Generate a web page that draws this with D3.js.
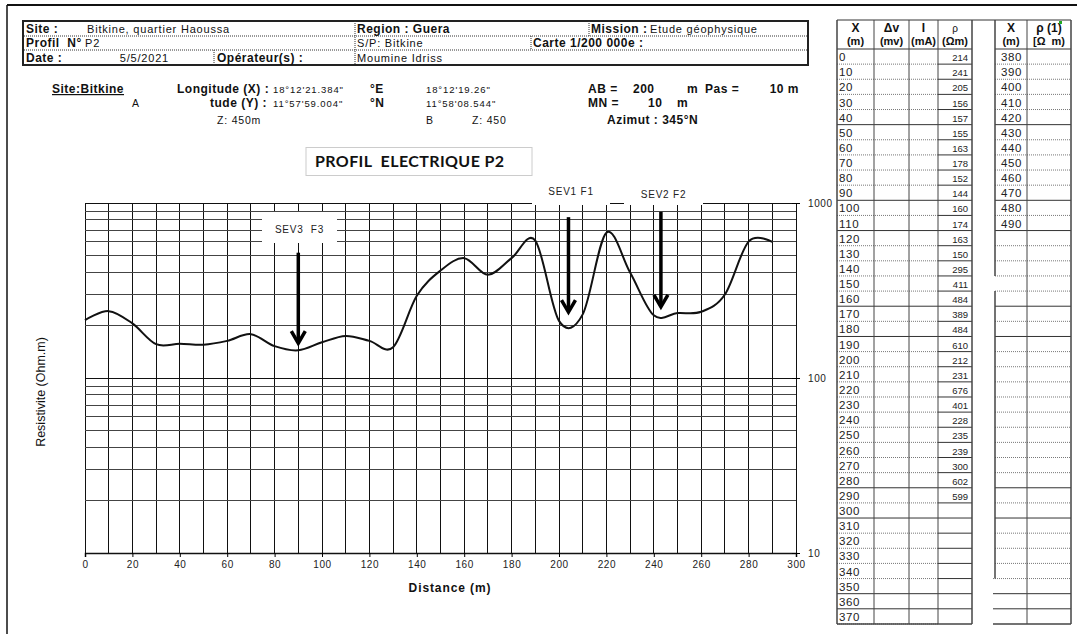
<!DOCTYPE html>
<html>
<head>
<meta charset="utf-8">
<script src="https://cdn.jsdelivr.net/npm/d3@7"></script>
<style>
  body { margin: 0; background: #fff; }
  svg { display: block; font-family: "Liberation Sans", Arial, sans-serif; }
  text { white-space: pre; }
</style>
</head>
<body>
<svg id="chart" width="1077" height="634"></svg>
<script>
// measured profile P2 : distance (m) and apparent resistivity (ohm.m)
const distances = [0, 10, 20, 30, 40, 50, 60, 70, 80, 90, 100, 110, 120, 130, 140,
  150, 160, 170, 180, 190, 200, 210, 220, 230, 240, 250, 260, 270, 280, 290];
const rhoValues = [214, 241, 205, 156, 157, 155, 163, 178, 152, 144, 160, 174, 163, 150, 295,
  411, 484, 389, 484, 610, 212, 231, 676, 401, 228, 235, 239, 300, 602, 599];

const xTickLabels = [0, 20, 40, 60, 80, 100, 120, 140, 160, 180, 200, 220, 240, 260, 280, 300];
const yTickLabels = [10, 100, 1000];

// sondage markers (distance, top of arrow, tip of arrow)
const sevNames = ["SEV3  F3", "SEV1 F1", "SEV2 F2"];
const sevX = [90, 204, 243];
const sevTop = [520, 830, 890];
const sevTip = [158, 238, 255];

// table on the right
const tableX1 = [0, 10, 20, 30, 40, 50, 60, 70, 80, 90, 100, 110, 120, 130, 140, 150, 160, 170, 180,
  190, 200, 210, 220, 230, 240, 250, 260, 270, 280, 290, 300, 310, 320, 330, 340, 350, 360, 370];
const tableX2 = [380, 390, 400, 410, 420, 430, 440, 450, 460, 470, 480, 490];

let svg = d3.select('#chart');

// ---------- page frame ----------
svg.append('line').attr('x1', 7).attr('x2', 1077).attr('y1', 5).attr('y2', 5)
   .attr('stroke', '#111').attr('stroke-width', 2);
svg.append('line').attr('x1', 7).attr('x2', 7).attr('y1', 5).attr('y2', 634)
   .attr('stroke', '#111').attr('stroke-width', 1.5);

// ---------- header box ----------
let head = svg.append('g');
head.append('rect').attr('x', 23).attr('y', 21).attr('width', 785).attr('height', 44)
    .attr('fill', 'none').attr('stroke', '#222').attr('stroke-width', 2);
[36, 50].forEach(y => {
  head.append('line').attr('x1', 24).attr('x2', 807).attr('y1', y).attr('y2', y)
      .attr('stroke', '#333').attr('stroke-dasharray', '1,1');
});
[[355, 21, 65], [589, 21, 36], [531, 36, 50], [214, 50, 65]].forEach(s => {
  head.append('line').attr('x1', s[0]).attr('x2', s[0]).attr('y1', s[1]).attr('y2', s[2])
      .attr('stroke', '#333').attr('stroke-dasharray', '1,1');
});
function htext(x, y, t, bold, anchor) {
  head.append('text').attr('x', x).attr('y', y).text(t)
      .attr('font-size', bold ? 12 : 11)
      .attr('letter-spacing', bold ? 0.5 : 0.8)
      .attr('font-weight', bold ? 'bold' : 'normal')
      .attr('text-anchor', anchor || 'start').attr('fill', '#111');
}
htext(26, 33, 'Site :', true);
htext(87, 33, 'Bitkine, quartier Haoussa', false);
htext(357, 33, 'Region : Guera', true);
htext(591, 33, 'Mission :', true);
htext(650, 33, 'Etude géophysique', false);
htext(26, 47, 'Profil  N°', true);
htext(85, 47, 'P2', false);
htext(357, 47, 'S/P: Bitkine', false);
htext(533, 47, 'Carte 1/200 000e :', true);
htext(26, 62, 'Date :', true);
htext(169, 62, '5/5/2021', false, 'end');
htext(217, 62, 'Opérateur(s) :', true);
htext(357, 62, 'Moumine Idriss', false);

// ---------- site info ----------
let info = svg.append('g').attr('fill', '#111');
function itext(x, y, t, kind, anchor) {
  let s = info.append('text').attr('x', x).attr('y', y).text(t)
      .attr('text-anchor', anchor || 'start');
  if (kind === 'b') s.attr('font-size', 12).attr('font-weight', 'bold').attr('letter-spacing', 0.5);
  else if (kind === 's') s.attr('font-size', 9.5).attr('letter-spacing', 0.9);
  else s.attr('font-size', 10.5).attr('letter-spacing', 0.8);
  return s;
}
itext(52, 93, 'Site:Bitkine', 'b').attr('text-decoration', 'underline');
itext(132, 107, 'A', 'n');
itext(177, 93, 'Longitude (X) :', 'b');
itext(273, 93, "18°12'21.384\"", 's');
itext(210, 107, 'tude (Y) :', 'b');
itext(273, 107, "11°57'59.004\"", 's');
itext(217, 124, 'Z: 450m', 'n');
itext(370, 93, '°E', 'b');
itext(370, 107, '°N', 'b');
itext(426, 93, "18°12'19.26\"", 's');
itext(426, 107, "11°58'08.544\"", 's');
itext(426, 124, 'B', 'n');
itext(472, 124, 'Z: 450', 'n');
itext(588, 93, 'AB =', 'b');
itext(633, 93, '200', 'b');
itext(687, 93, 'm', 'b');
itext(705, 93, 'Pas =', 'b');
itext(799, 93, '10 m', 'b', 'end');
itext(588, 107, 'MN =', 'b');
itext(648, 107, '10', 'b');
itext(677, 107, 'm', 'b');
itext(607, 124, 'Azimut : 345°N', 'b');

// ---------- title box ----------
svg.append('rect').attr('x', 306).attr('y', 147.5).attr('width', 226).attr('height', 28)
   .attr('fill', '#fff').attr('stroke', '#ccc').attr('stroke-width', 1);
svg.append('text').attr('x', 315).attr('y', 167).text('PROFIL  ELECTRIQUE P2')
   .attr('font-family', 'Lato, "Open Sans", sans-serif').attr('font-weight', 'bold')
   .attr('font-size', 16).attr('letter-spacing', 0.4).attr('fill', '#111');

// ---------- chart ----------
let x = d3.scaleLinear().domain([0, 300]).range([85, 796]);
let y = d3.scaleLog().domain([10, 1000]).range([553, 203]);

let grid = svg.append('g').attr('stroke', '#111').attr('stroke-width', 1).attr('shape-rendering', 'crispEdges');
grid.selectAll('.vx').data(d3.range(0, 301, 10)).enter().append('line')
    .attr('x1', d => x(d)).attr('x2', d => x(d)).attr('y1', y(1000)).attr('y2', y(10));
grid.selectAll('.hy').data(y.ticks()).enter().append('line')
    .attr('x1', x(0)).attr('x2', x(300)).attr('y1', d => y(d)).attr('y2', d => y(d))
    .attr('stroke', d => [10, 100, 1000].includes(d) ? '#111' : '#444');

// axes
let xAxis = d3.axisBottom(x).tickValues(xTickLabels).tickSize(4).tickPadding(4);
let gx = svg.append('g').attr('transform', `translate(0,${y(10)})`).call(xAxis);
gx.select('.domain').attr('stroke', '#111').attr('stroke-width', 1.5);
gx.selectAll('text').attr('font-size', 10).attr('fill', '#222').attr('letter-spacing', 0.6)
  .attr('font-family', '"Liberation Sans", Arial, sans-serif');

let yAxis = d3.axisRight(y).tickValues(yTickLabels).tickSize(4).tickPadding(8)
  .tickFormat(d3.format('d'));
let gy = svg.append('g').attr('transform', `translate(${x(300)},0)`).call(yAxis);
gy.select('.domain').attr('stroke', '#111');
gy.selectAll('.tick line').attr('x1', -4);
gy.selectAll('text').attr('font-size', 10).attr('fill', '#222').attr('letter-spacing', 0.6)
  .attr('font-family', '"Liberation Sans", Arial, sans-serif');

svg.append('text').attr('x', 450).attr('y', 592).text('Distance (m)')
   .attr('text-anchor', 'middle').attr('font-weight', 'bold').attr('font-size', 12)
   .attr('letter-spacing', 0.9).attr('fill', '#111');
svg.append('text').attr('transform', 'translate(45,392) rotate(-90)').text('Resistivite (Ohm.m)')
   .attr('text-anchor', 'middle').attr('font-size', 12.5).attr('fill', '#111');

// resistivity curve (smoothed like the spreadsheet line)
let line = d3.line()
  .x((d, i) => x(distances[i]))
  .y(d => y(d))
  .curve(d3.curveCardinal.tension(0));
svg.append('path').datum(rhoValues).attr('d', line)
   .attr('fill', 'none').attr('stroke', '#111').attr('stroke-width', 2);

// SEV labels and arrows
let boxes = [[262, 212, 75, 31], [532, 180, 78, 25], [624, 183, 79, 22]];
let labelY = [233, 195, 198];
sevNames.forEach((name, i) => {
  let b = boxes[i];
  svg.append('rect').attr('x', b[0]).attr('y', b[1]).attr('width', b[2]).attr('height', b[3])
     .attr('fill', '#fff');
  svg.append('text').attr('x', b[0] + b[2] / 2).attr('y', labelY[i]).text(name)
     .attr('text-anchor', 'middle').attr('font-size', 10).attr('fill', '#222')
     .attr('letter-spacing', 0.8);
  let ax = x(sevX[i]), top = y(sevTop[i]), tip = y(sevTip[i]);
  svg.append('line').attr('x1', ax).attr('x2', ax).attr('y1', top).attr('y2', tip - 2)
     .attr('stroke', '#000').attr('stroke-width', 3.5);
  svg.append('path').attr('d', `M${ax - 7},${tip - 12} L${ax},${tip} L${ax + 7},${tip - 12}`)
     .attr('fill', 'none').attr('stroke', '#000').attr('stroke-width', 3.5);
});

// ---------- data table ----------
let tab = svg.append('g');
let top0 = 20, headH = 29, rowH = 15.13;
let nRows = tableX1.length;
let bottom = top0 + headH + nRows * rowH;
let cols1 = [837, 874, 909, 938, 972];
let cols2 = [995, 1027, 1071];
let solidAfter = [4, 9, 11, 16, 18, 28, 30, 35, 36];

// header labels
let hdr = [[855.5, 'X', '(m)'], [891.5, 'Δv', '(mv)'], [923.5, 'I', '(mA)'], [955, 'ρ', '(Ωm)'],
           [1011, 'X', '(m)'], [1049, 'ρ (1)', '[Ω  m)']];
hdr.forEach(h => {
  tab.append('text').attr('x', h[0]).attr('y', 32).text(h[1]).attr('text-anchor', 'middle')
     .attr('font-size', h[1] === 'ρ' ? 10 : 12).attr('font-weight', h[1] === 'ρ' ? 'normal' : 'bold')
     .attr('fill', '#111');
  tab.append('text').attr('x', h[0]).attr('y', 45).text(h[2]).attr('text-anchor', 'middle')
     .attr('font-size', 11).attr('font-weight', 'bold').attr('fill', '#111');
});
tab.append('rect').attr('x', 1059).attr('y', 21).attr('width', 3).attr('height', 3).attr('fill', '#2a2');

// row lines
tableX1.forEach((v, i) => {
  let yy = top0 + headH + (i + 1) * rowH;
  let solid = solidAfter.includes(i);
  tab.append('line').attr('x1', cols1[0]).attr('x2', cols1[3]).attr('y1', yy).attr('y2', yy)
     .attr('stroke', solid ? '#333' : '#555').attr('stroke-width', solid ? 1 : 0.8)
     .attr('stroke-dasharray', solid ? null : '1,1');
  if (i < nRows - 1) {
    tab.append('line').attr('x1', cols1[3]).attr('x2', cols1[4]).attr('y1', yy).attr('y2', yy)
       .attr('stroke', '#333').attr('stroke-width', 1);
    let x2start = (i >= 34) ? 993 : cols2[0];
    tab.append('line').attr('x1', x2start).attr('x2', cols2[2]).attr('y1', yy).attr('y2', yy)
       .attr('stroke', solid ? '#333' : '#555').attr('stroke-width', solid ? 1 : 0.8)
       .attr('stroke-dasharray', solid ? null : '1,1');
  }
  tab.append('text').attr('x', 839).attr('y', yy - 3).text(v)
     .attr('font-size', 11.5).attr('fill', '#222').attr('letter-spacing', 0.6);
});
rhoValues.forEach((v, i) => {
  let yy = top0 + headH + (i + 1) * rowH;
  tab.append('text').attr('x', 968).attr('y', yy - 3).text(v).attr('text-anchor', 'end')
     .attr('font-size', 9.5).attr('fill', '#222');
});
tableX2.forEach((v, i) => {
  let yy = top0 + headH + (i + 1) * rowH;
  tab.append('text').attr('x', 1001).attr('y', yy - 3).text(v)
     .attr('font-size', 11.5).attr('fill', '#222').attr('letter-spacing', 0.6);
});

// header bottom and verticals
tab.append('line').attr('x1', cols1[0]).attr('x2', cols1[4]).attr('y1', top0 + headH).attr('y2', top0 + headH)
   .attr('stroke', '#333');
tab.append('line').attr('x1', cols2[0]).attr('x2', cols2[2]).attr('y1', top0 + headH).attr('y2', top0 + headH)
   .attr('stroke', '#333');
tab.append('line').attr('x1', cols1[0]).attr('x2', cols2[2]).attr('y1', top0).attr('y2', top0)
   .attr('stroke', '#333');
cols1.forEach((c, k) => {
  tab.append('line').attr('x1', c).attr('x2', c).attr('y1', top0).attr('y2', bottom)
     .attr('stroke', '#444').attr('stroke-width', (k === 0 || k === 4) ? 1.5 : 1);
});
tab.append('line').attr('x1', cols1[0]).attr('x2', cols1[4]).attr('y1', bottom).attr('y2', bottom)
   .attr('stroke', '#444').attr('stroke-width', 1.5);
// second block: left edge broken at the 150 row and below the 340 row
let rowTop = i => top0 + headH + i * rowH;
[[top0, rowTop(15)], [rowTop(16), rowTop(35)]].forEach(s => {
  tab.append('line').attr('x1', cols2[0]).attr('x2', cols2[0]).attr('y1', s[0]).attr('y2', s[1])
     .attr('stroke', '#444').attr('stroke-width', 1.5);
});
tab.append('line').attr('x1', cols2[1]).attr('x2', cols2[1]).attr('y1', top0).attr('y2', bottom)
   .attr('stroke', '#444');
tab.append('line').attr('x1', cols2[2]).attr('x2', cols2[2]).attr('y1', top0).attr('y2', bottom)
   .attr('stroke', '#444').attr('stroke-width', 1.5);
tab.append('line').attr('x1', 993).attr('x2', cols2[2]).attr('y1', bottom).attr('y2', bottom)
   .attr('stroke', '#444').attr('stroke-width', 1.5);
</script>
</body>
</html>
